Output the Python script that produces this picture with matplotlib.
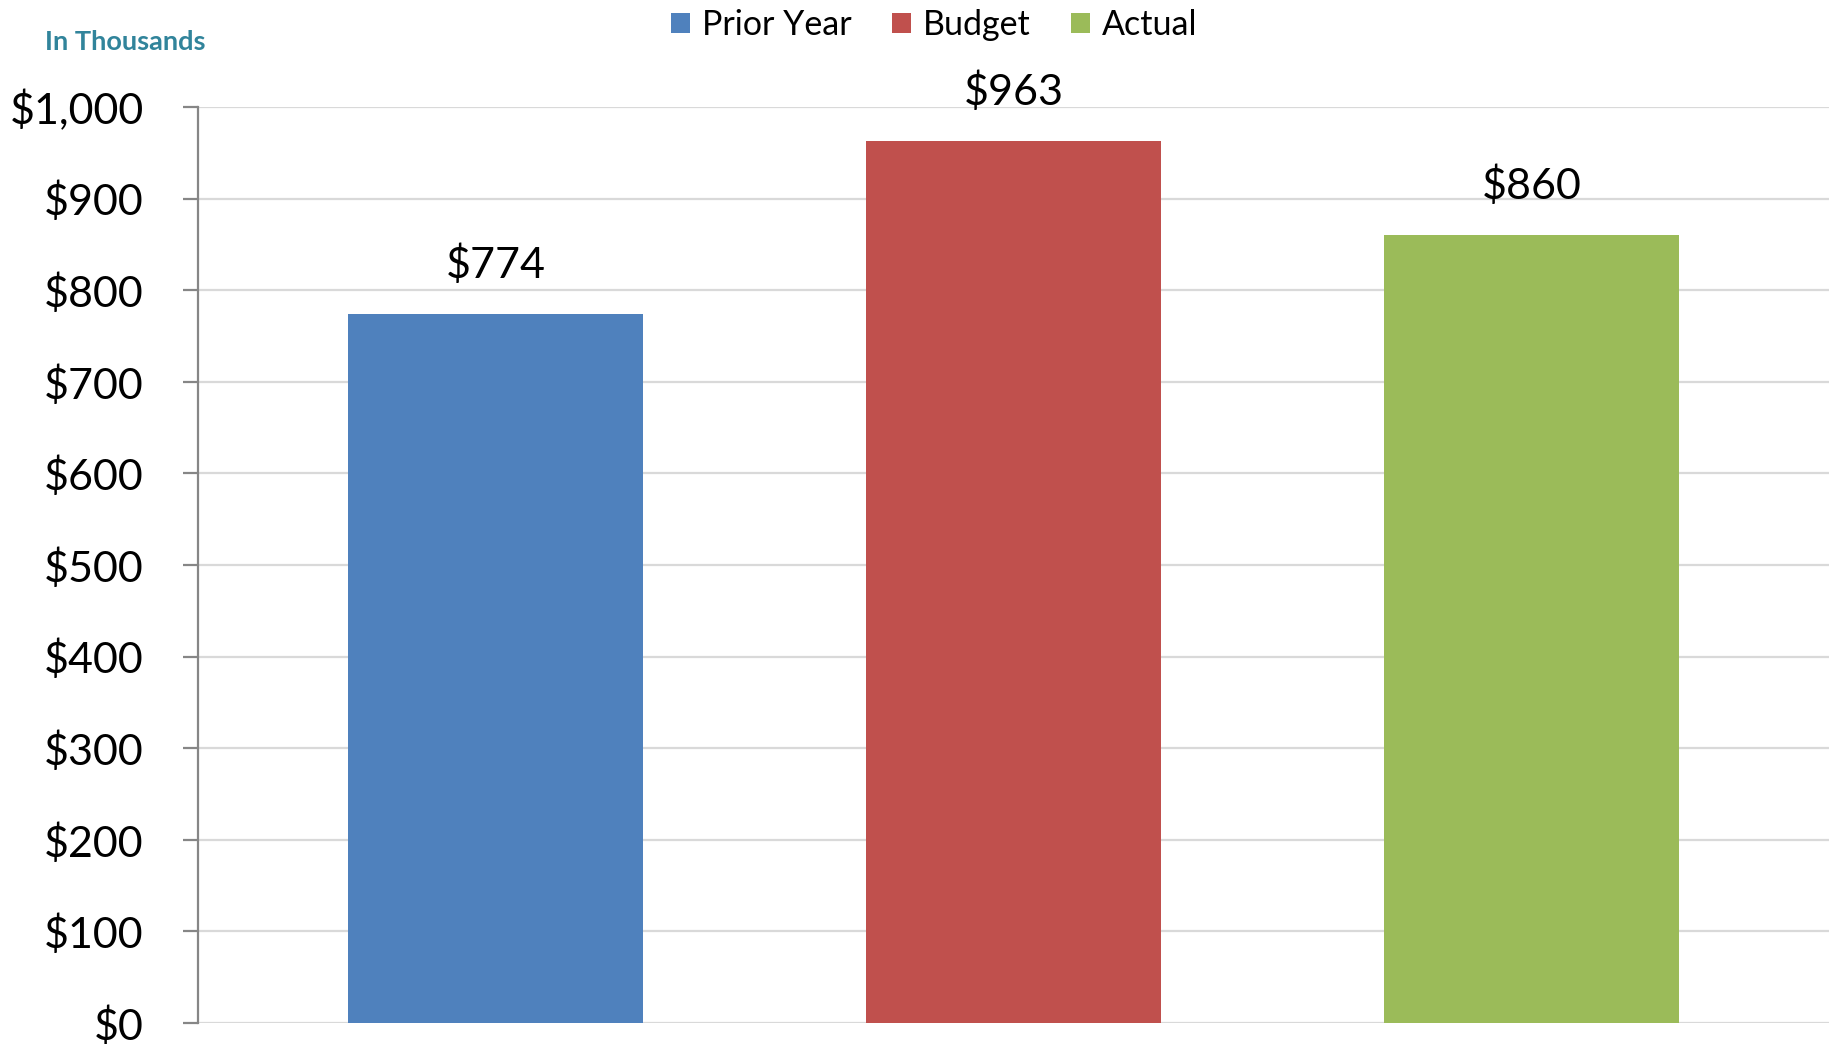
import matplotlib.pyplot as plt
import numpy as np

plt.rcParams['font.family'] = ['Lato', 'DejaVu Sans']

series = ['Prior Year', 'Budget', 'Actual']
values = [774, 963, 860]
colors = ['#4F81BD', '#C0504D', '#9BBB59']
yticks = [0, 100, 200, 300, 400, 500, 600, 700, 800, 900, 1000]

fig = plt.figure(figsize=(18.43, 10.44), dpi=100)
ax = fig.add_axes([0.1074, 0.0201, 0.8850, 0.8774])

x = np.arange(len(series))
bars = ax.bar(x, values, width=0.57, color=colors, label=series, zorder=3)

for xi, v in zip(x, values):
    ax.annotate(f'${v:,}', (xi, v), xytext=(0, 21), textcoords='offset points',
                ha='center', va='bottom', fontsize=31, color='black')

ax.set_xlim(-0.574, 2.574)
ax.set_ylim(0, 1000)
ax.set_yticks(yticks)
ax.set_yticklabels([f'${t:,}' for t in yticks], fontsize=31)
ax.set_xticks([])

ax.grid(axis='y', color='#D9D9D9', linewidth=1.6, zorder=0)
for s in ['top', 'right', 'bottom']:
    ax.spines[s].set_visible(False)
ax.spines['left'].set_color('#868686')
ax.spines['left'].set_linewidth(1.6)
ax.tick_params(axis='y', length=11, width=1.6, color='#868686', pad=28)

fig.text(0.0244, 0.9598, 'In Thousands', fontsize=19.5, fontweight='bold',
         color='#31849B', ha='left', va='center')

fig.legend(handles=bars, labels=series, loc='center', bbox_to_anchor=(0.507, 0.976),
           ncol=3, frameon=False, fontsize=24.5, handlelength=0.55, handleheight=0.55,
           handletextpad=0.35, columnspacing=1.2)

fig.savefig('out.png', dpi=100)
